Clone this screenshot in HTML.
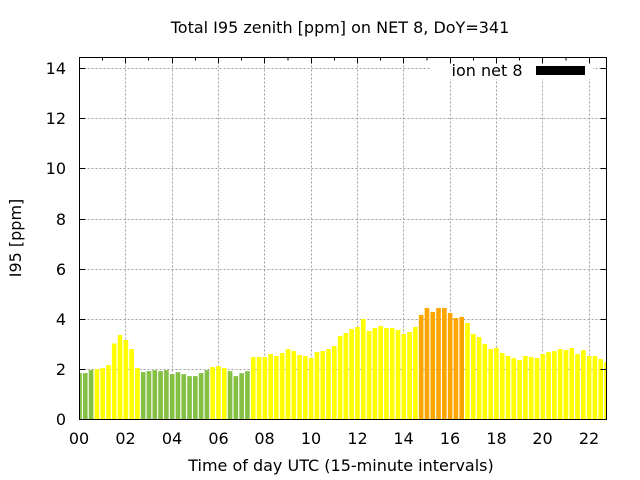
<!DOCTYPE html>
<html>
<head>
<meta charset="utf-8">
<style>
  html, body { margin:0; padding:0; background:#ffffff; }
  svg { display:block; }
  text { font-family: "DejaVu Sans", "Liberation Sans", sans-serif; font-size:16px; fill:#000; }
</style>
</head>
<body>
<svg width="640" height="480" viewBox="0 0 640 480" xmlns="http://www.w3.org/2000/svg">
  <defs>
    <clipPath id="plot">
      <rect x="79.5" y="57.5" width="527" height="362"/>
    </clipPath>
  </defs>
  <rect x="0" y="0" width="640" height="480" fill="#ffffff"/>

  <!-- grid -->
  <g stroke="#a0a0a0" stroke-width="1" stroke-dasharray="2,2" fill="none">
    <line x1="79.5" y1="369.5" x2="606.5" y2="369.5"/>
    <line x1="79.5" y1="319.5" x2="606.5" y2="319.5"/>
    <line x1="79.5" y1="269.5" x2="606.5" y2="269.5"/>
    <line x1="79.5" y1="219.5" x2="606.5" y2="219.5"/>
    <line x1="79.5" y1="168.5" x2="606.5" y2="168.5"/>
    <line x1="79.5" y1="118.5" x2="606.5" y2="118.5"/>
    <line x1="79.5" y1="68.5" x2="606.5" y2="68.5"/>
    <line x1="125.5" y1="57.5" x2="125.5" y2="419.5"/>
    <line x1="172.5" y1="57.5" x2="172.5" y2="419.5"/>
    <line x1="218.5" y1="57.5" x2="218.5" y2="419.5"/>
    <line x1="264.5" y1="57.5" x2="264.5" y2="419.5"/>
    <line x1="311.5" y1="57.5" x2="311.5" y2="419.5"/>
    <line x1="357.5" y1="57.5" x2="357.5" y2="419.5"/>
    <line x1="403.5" y1="57.5" x2="403.5" y2="419.5"/>
    <line x1="450.5" y1="57.5" x2="450.5" y2="419.5"/>
    <line x1="496.5" y1="57.5" x2="496.5" y2="419.5"/>
    <line x1="542.5" y1="57.5" x2="542.5" y2="419.5"/>
    <line x1="589.5" y1="57.5" x2="589.5" y2="419.5"/>
  </g>

  <!-- bars -->
  <g clip-path="url(#plot)">
    <g transform="matrix(5.791 0 0 -25.07 79.5 419.5)" stroke="none">
      <rect x="-0.4" y="0" width="0.8" height="1.85" fill="#84c043"/>
      <rect x="0.6" y="0" width="0.8" height="1.85" fill="#84c043"/>
      <rect x="1.6" y="0" width="0.8" height="1.97" fill="#84c043"/>
      <rect x="2.6" y="0" width="0.8" height="2.01" fill="#ffff00"/>
      <rect x="3.6" y="0" width="0.8" height="2.05" fill="#ffff00"/>
      <rect x="4.6" y="0" width="0.8" height="2.17" fill="#ffff00"/>
      <rect x="5.6" y="0" width="0.8" height="3.03" fill="#ffff00"/>
      <rect x="6.6" y="0" width="0.8" height="3.37" fill="#ffff00"/>
      <rect x="7.6" y="0" width="0.8" height="3.17" fill="#ffff00"/>
      <rect x="8.6" y="0" width="0.8" height="2.81" fill="#ffff00"/>
      <rect x="9.6" y="0" width="0.8" height="2.05" fill="#ffff00"/>
      <rect x="10.6" y="0" width="0.8" height="1.89" fill="#84c043"/>
      <rect x="11.6" y="0" width="0.8" height="1.93" fill="#84c043"/>
      <rect x="12.6" y="0" width="0.8" height="1.97" fill="#84c043"/>
      <rect x="13.6" y="0" width="0.8" height="1.93" fill="#84c043"/>
      <rect x="14.6" y="0" width="0.8" height="1.97" fill="#84c043"/>
      <rect x="15.6" y="0" width="0.8" height="1.81" fill="#84c043"/>
      <rect x="16.6" y="0" width="0.8" height="1.89" fill="#84c043"/>
      <rect x="17.6" y="0" width="0.8" height="1.81" fill="#84c043"/>
      <rect x="18.6" y="0" width="0.8" height="1.73" fill="#84c043"/>
      <rect x="19.6" y="0" width="0.8" height="1.73" fill="#84c043"/>
      <rect x="20.6" y="0" width="0.8" height="1.85" fill="#84c043"/>
      <rect x="21.6" y="0" width="0.8" height="1.97" fill="#84c043"/>
      <rect x="22.6" y="0" width="0.8" height="2.09" fill="#ffff00"/>
      <rect x="23.6" y="0" width="0.8" height="2.13" fill="#ffff00"/>
      <rect x="24.6" y="0" width="0.8" height="2.05" fill="#ffff00"/>
      <rect x="25.6" y="0" width="0.8" height="1.93" fill="#84c043"/>
      <rect x="26.6" y="0" width="0.8" height="1.73" fill="#84c043"/>
      <rect x="27.6" y="0" width="0.8" height="1.85" fill="#84c043"/>
      <rect x="28.6" y="0" width="0.8" height="1.93" fill="#84c043"/>
      <rect x="29.6" y="0" width="0.8" height="2.49" fill="#ffff00"/>
      <rect x="30.6" y="0" width="0.8" height="2.49" fill="#ffff00"/>
      <rect x="31.6" y="0" width="0.8" height="2.49" fill="#ffff00"/>
      <rect x="32.6" y="0" width="0.8" height="2.61" fill="#ffff00"/>
      <rect x="33.6" y="0" width="0.8" height="2.53" fill="#ffff00"/>
      <rect x="34.6" y="0" width="0.8" height="2.65" fill="#ffff00"/>
      <rect x="35.6" y="0" width="0.8" height="2.81" fill="#ffff00"/>
      <rect x="36.6" y="0" width="0.8" height="2.73" fill="#ffff00"/>
      <rect x="37.6" y="0" width="0.8" height="2.57" fill="#ffff00"/>
      <rect x="38.6" y="0" width="0.8" height="2.53" fill="#ffff00"/>
      <rect x="39.6" y="0" width="0.8" height="2.45" fill="#ffff00"/>
      <rect x="40.6" y="0" width="0.8" height="2.69" fill="#ffff00"/>
      <rect x="41.6" y="0" width="0.8" height="2.73" fill="#ffff00"/>
      <rect x="42.6" y="0" width="0.8" height="2.81" fill="#ffff00"/>
      <rect x="43.6" y="0" width="0.8" height="2.93" fill="#ffff00"/>
      <rect x="44.6" y="0" width="0.8" height="3.33" fill="#ffff00"/>
      <rect x="45.6" y="0" width="0.8" height="3.45" fill="#ffff00"/>
      <rect x="46.6" y="0" width="0.8" height="3.61" fill="#ffff00"/>
      <rect x="47.6" y="0" width="0.8" height="3.69" fill="#ffff00"/>
      <rect x="48.6" y="0" width="0.8" height="4.01" fill="#ffff00"/>
      <rect x="49.6" y="0" width="0.8" height="3.53" fill="#ffff00"/>
      <rect x="50.6" y="0" width="0.8" height="3.65" fill="#ffff00"/>
      <rect x="51.6" y="0" width="0.8" height="3.73" fill="#ffff00"/>
      <rect x="52.6" y="0" width="0.8" height="3.65" fill="#ffff00"/>
      <rect x="53.6" y="0" width="0.8" height="3.65" fill="#ffff00"/>
      <rect x="54.6" y="0" width="0.8" height="3.57" fill="#ffff00"/>
      <rect x="55.6" y="0" width="0.8" height="3.41" fill="#ffff00"/>
      <rect x="56.6" y="0" width="0.8" height="3.49" fill="#ffff00"/>
      <rect x="57.6" y="0" width="0.8" height="3.69" fill="#ffff00"/>
      <rect x="58.6" y="0" width="0.8" height="4.17" fill="#ffa500"/>
      <rect x="59.6" y="0" width="0.8" height="4.45" fill="#ffa500"/>
      <rect x="60.6" y="0" width="0.8" height="4.29" fill="#ffa500"/>
      <rect x="61.6" y="0" width="0.8" height="4.45" fill="#ffa500"/>
      <rect x="62.6" y="0" width="0.8" height="4.45" fill="#ffa500"/>
      <rect x="63.6" y="0" width="0.8" height="4.25" fill="#ffa500"/>
      <rect x="64.6" y="0" width="0.8" height="4.05" fill="#ffa500"/>
      <rect x="65.6" y="0" width="0.8" height="4.09" fill="#ffa500"/>
      <rect x="66.6" y="0" width="0.8" height="3.85" fill="#ffff00"/>
      <rect x="67.6" y="0" width="0.8" height="3.41" fill="#ffff00"/>
      <rect x="68.6" y="0" width="0.8" height="3.29" fill="#ffff00"/>
      <rect x="69.6" y="0" width="0.8" height="3.01" fill="#ffff00"/>
      <rect x="70.6" y="0" width="0.8" height="2.81" fill="#ffff00"/>
      <rect x="71.6" y="0" width="0.8" height="2.85" fill="#ffff00"/>
      <rect x="72.6" y="0" width="0.8" height="2.65" fill="#ffff00"/>
      <rect x="73.6" y="0" width="0.8" height="2.53" fill="#ffff00"/>
      <rect x="74.6" y="0" width="0.8" height="2.45" fill="#ffff00"/>
      <rect x="75.6" y="0" width="0.8" height="2.37" fill="#ffff00"/>
      <rect x="76.6" y="0" width="0.8" height="2.53" fill="#ffff00"/>
      <rect x="77.6" y="0" width="0.8" height="2.49" fill="#ffff00"/>
      <rect x="78.6" y="0" width="0.8" height="2.45" fill="#ffff00"/>
      <rect x="79.6" y="0" width="0.8" height="2.61" fill="#ffff00"/>
      <rect x="80.6" y="0" width="0.8" height="2.69" fill="#ffff00"/>
      <rect x="81.6" y="0" width="0.8" height="2.73" fill="#ffff00"/>
      <rect x="82.6" y="0" width="0.8" height="2.81" fill="#ffff00"/>
      <rect x="83.6" y="0" width="0.8" height="2.77" fill="#ffff00"/>
      <rect x="84.6" y="0" width="0.8" height="2.85" fill="#ffff00"/>
      <rect x="85.6" y="0" width="0.8" height="2.61" fill="#ffff00"/>
      <rect x="86.6" y="0" width="0.8" height="2.77" fill="#ffff00"/>
      <rect x="87.6" y="0" width="0.8" height="2.53" fill="#ffff00"/>
      <rect x="88.6" y="0" width="0.8" height="2.53" fill="#ffff00"/>
      <rect x="89.6" y="0" width="0.8" height="2.41" fill="#ffff00"/>
      <rect x="90.6" y="0" width="0.8" height="2.29" fill="#ffff00"/>
    </g>
  </g>

  <!-- key box -->
  <rect x="431" y="58" width="162" height="21" fill="#ffffff"/>
  <text x="522.5" y="76" text-anchor="end">ion net 8</text>
  <rect x="536" y="66" width="49" height="9" fill="#000000"/>

  <!-- border -->
  <rect x="79.5" y="57.5" width="527" height="362" fill="none" stroke="#000" stroke-width="1"/>

  <!-- y ticks left/right -->
  <g stroke="#000" stroke-width="1">
    <line x1="79.5" y1="369.5" x2="85.5" y2="369.5"/>
    <line x1="79.5" y1="319.5" x2="85.5" y2="319.5"/>
    <line x1="79.5" y1="269.5" x2="85.5" y2="269.5"/>
    <line x1="79.5" y1="219.5" x2="85.5" y2="219.5"/>
    <line x1="79.5" y1="168.5" x2="85.5" y2="168.5"/>
    <line x1="79.5" y1="118.5" x2="85.5" y2="118.5"/>
    <line x1="79.5" y1="68.5" x2="85.5" y2="68.5"/>
    <line x1="600.5" y1="369.5" x2="606.5" y2="369.5"/>
    <line x1="600.5" y1="319.5" x2="606.5" y2="319.5"/>
    <line x1="600.5" y1="269.5" x2="606.5" y2="269.5"/>
    <line x1="600.5" y1="219.5" x2="606.5" y2="219.5"/>
    <line x1="600.5" y1="168.5" x2="606.5" y2="168.5"/>
    <line x1="600.5" y1="118.5" x2="606.5" y2="118.5"/>
    <line x1="600.5" y1="68.5" x2="606.5" y2="68.5"/>
    <!-- top ticks -->
    <line x1="102.5" y1="57.5" x2="102.5" y2="60.5"/>
    <line x1="125.5" y1="57.5" x2="125.5" y2="63.5"/>
    <line x1="148.5" y1="57.5" x2="148.5" y2="60.5"/>
    <line x1="172.5" y1="57.5" x2="172.5" y2="63.5"/>
    <line x1="195.5" y1="57.5" x2="195.5" y2="60.5"/>
    <line x1="218.5" y1="57.5" x2="218.5" y2="63.5"/>
    <line x1="241.5" y1="57.5" x2="241.5" y2="60.5"/>
    <line x1="264.5" y1="57.5" x2="264.5" y2="63.5"/>
    <line x1="288" y1="57.5" x2="288" y2="60.5"/>
    <line x1="311.5" y1="57.5" x2="311.5" y2="63.5"/>
    <line x1="334.5" y1="57.5" x2="334.5" y2="60.5"/>
    <line x1="357.5" y1="57.5" x2="357.5" y2="63.5"/>
    <line x1="380.5" y1="57.5" x2="380.5" y2="60.5"/>
    <line x1="403.5" y1="57.5" x2="403.5" y2="63.5"/>
    <line x1="427" y1="57.5" x2="427" y2="60.5"/>
    <line x1="450.5" y1="57.5" x2="450.5" y2="63.5"/>
    <line x1="473.5" y1="57.5" x2="473.5" y2="60.5"/>
    <line x1="496.5" y1="57.5" x2="496.5" y2="63.5"/>
    <line x1="519.5" y1="57.5" x2="519.5" y2="60.5"/>
    <line x1="542.5" y1="57.5" x2="542.5" y2="63.5"/>
    <line x1="566" y1="57.5" x2="566" y2="60.5"/>
    <line x1="589.5" y1="57.5" x2="589.5" y2="63.5"/>
  </g>

  <!-- y tick labels -->
  <g text-anchor="end">
    <text x="66" y="425">0</text>
    <text x="66" y="375">2</text>
    <text x="66" y="325">4</text>
    <text x="66" y="275">6</text>
    <text x="66" y="225">8</text>
    <text x="66" y="174">10</text>
    <text x="66" y="124">12</text>
    <text x="66" y="74">14</text>
  </g>

  <!-- x tick labels -->
  <g text-anchor="middle">
    <text x="79" y="444">00</text>
    <text x="125.5" y="444">02</text>
    <text x="172" y="444">04</text>
    <text x="218.5" y="444">06</text>
    <text x="264.5" y="444">08</text>
    <text x="311" y="444">10</text>
    <text x="357.5" y="444">12</text>
    <text x="403.5" y="444">14</text>
    <text x="450" y="444">16</text>
    <text x="496.5" y="444">18</text>
    <text x="542.5" y="444">20</text>
    <text x="589" y="444">22</text>
  </g>

  <!-- titles -->
  <text x="340" y="33" text-anchor="middle">Total I95 zenith [ppm] on NET 8, DoY=341</text>
  <text x="341" y="471" text-anchor="middle">Time of day UTC (15-minute intervals)</text>
  <text x="0" y="0" text-anchor="middle" transform="translate(21,238) rotate(-90)">I95 [ppm]</text>
</svg>
</body>
</html>
